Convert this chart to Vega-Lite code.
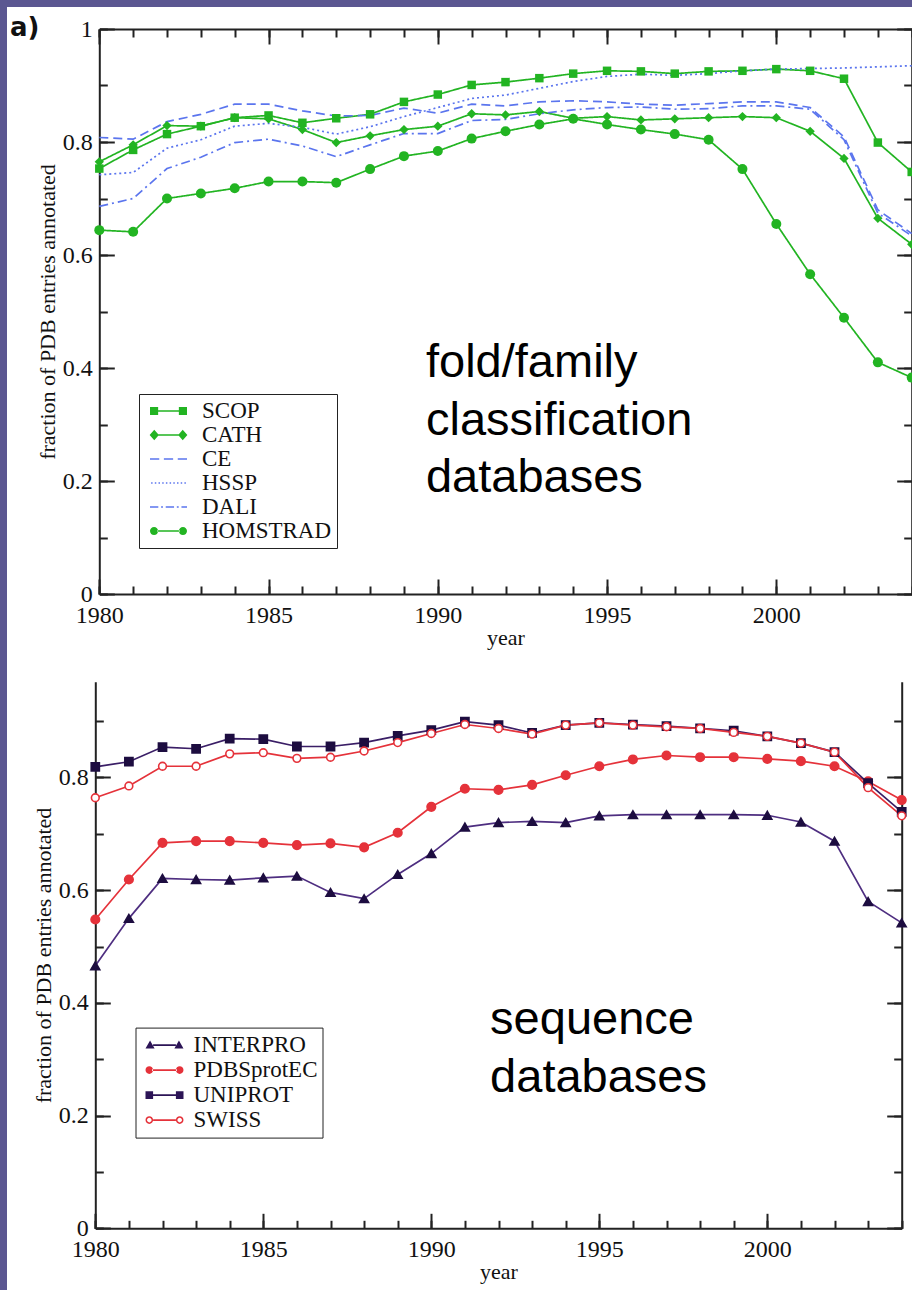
{
  "$schema": "https://vega.github.io/schema/vega-lite/v6.json",
  "background": "#5b5791",
  "padding": {"left": 7, "top": 7, "right": 0, "bottom": 0},
  "spacing": 0,
  "resolve": {"scale": {"color": "independent", "fill": "independent", "shape": "independent", "size": "independent", "strokeDash": "independent", "stroke": "independent"}},
  "config": {
    "view": {"stroke": null},
    "axis": {"domainColor": "#222", "domainWidth": 2, "tickColor": "#222", "tickWidth": 2, "labelFont": "Liberation Serif", "labelFontSize": 24, "labelColor": "#111", "titleFont": "Liberation Serif", "titleFontSize": 22, "titleFontWeight": "normal", "titleColor": "#111", "grid": false, "labelFlush": false, "labelOverlap": false},
    "legend": {"orient": "none", "title": null, "strokeColor": "#222", "fillColor": "white", "padding": 5, "labelFont": "Liberation Serif", "labelFontSize": 23, "labelColor": "#111", "rowPadding": 0, "symbolStrokeWidth": 0, "symbolOpacity": 1, "labelLimit": 300}
  },
  "datasets": {
    "top": [
      {"db":"SCOP","year":1980,"v":0.753},{"db":"SCOP","year":1981,"v":0.786},{"db":"SCOP","year":1982,"v":0.814},{"db":"SCOP","year":1983,"v":0.828},{"db":"SCOP","year":1984,"v":0.843},{"db":"SCOP","year":1985,"v":0.847},{"db":"SCOP","year":1986,"v":0.834},{"db":"SCOP","year":1987,"v":0.842},{"db":"SCOP","year":1988,"v":0.849},{"db":"SCOP","year":1989,"v":0.871},{"db":"SCOP","year":1990,"v":0.884},{"db":"SCOP","year":1991,"v":0.901},{"db":"SCOP","year":1992,"v":0.906},{"db":"SCOP","year":1993,"v":0.913},{"db":"SCOP","year":1994,"v":0.921},{"db":"SCOP","year":1995,"v":0.926},{"db":"SCOP","year":1996,"v":0.925},{"db":"SCOP","year":1997,"v":0.921},{"db":"SCOP","year":1998,"v":0.925},{"db":"SCOP","year":1999,"v":0.926},{"db":"SCOP","year":2000,"v":0.929},{"db":"SCOP","year":2001,"v":0.926},{"db":"SCOP","year":2002,"v":0.912},{"db":"SCOP","year":2003,"v":0.799},{"db":"SCOP","year":2004,"v":0.747},
      {"db":"CATH","year":1980,"v":0.765},{"db":"CATH","year":1981,"v":0.795},{"db":"CATH","year":1982,"v":0.829},{"db":"CATH","year":1983,"v":0.828},{"db":"CATH","year":1984,"v":0.843},{"db":"CATH","year":1985,"v":0.841},{"db":"CATH","year":1986,"v":0.822},{"db":"CATH","year":1987,"v":0.799},{"db":"CATH","year":1988,"v":0.811},{"db":"CATH","year":1989,"v":0.822},{"db":"CATH","year":1990,"v":0.828},{"db":"CATH","year":1991,"v":0.850},{"db":"CATH","year":1992,"v":0.848},{"db":"CATH","year":1993,"v":0.854},{"db":"CATH","year":1994,"v":0.842},{"db":"CATH","year":1995,"v":0.845},{"db":"CATH","year":1996,"v":0.839},{"db":"CATH","year":1997,"v":0.841},{"db":"CATH","year":1998,"v":0.843},{"db":"CATH","year":1999,"v":0.845},{"db":"CATH","year":2000,"v":0.843},{"db":"CATH","year":2001,"v":0.819},{"db":"CATH","year":2002,"v":0.771},{"db":"CATH","year":2003,"v":0.665},{"db":"CATH","year":2004,"v":0.619},
      {"db":"CE","year":1980,"v":0.808},{"db":"CE","year":1981,"v":0.805},{"db":"CE","year":1982,"v":0.836},{"db":"CE","year":1983,"v":0.849},{"db":"CE","year":1984,"v":0.867},{"db":"CE","year":1985,"v":0.867},{"db":"CE","year":1986,"v":0.855},{"db":"CE","year":1987,"v":0.846},{"db":"CE","year":1988,"v":0.847},{"db":"CE","year":1989,"v":0.860},{"db":"CE","year":1990,"v":0.851},{"db":"CE","year":1991,"v":0.867},{"db":"CE","year":1992,"v":0.864},{"db":"CE","year":1993,"v":0.871},{"db":"CE","year":1994,"v":0.873},{"db":"CE","year":1995,"v":0.871},{"db":"CE","year":1996,"v":0.867},{"db":"CE","year":1997,"v":0.865},{"db":"CE","year":1998,"v":0.868},{"db":"CE","year":1999,"v":0.871},{"db":"CE","year":2000,"v":0.871},{"db":"CE","year":2001,"v":0.861},{"db":"CE","year":2002,"v":0.809},{"db":"CE","year":2003,"v":0.680},{"db":"CE","year":2004,"v":0.638},
      {"db":"HSSP","year":1980,"v":0.742},{"db":"HSSP","year":1981,"v":0.746},{"db":"HSSP","year":1982,"v":0.789},{"db":"HSSP","year":1983,"v":0.804},{"db":"HSSP","year":1984,"v":0.828},{"db":"HSSP","year":1985,"v":0.833},{"db":"HSSP","year":1986,"v":0.826},{"db":"HSSP","year":1987,"v":0.814},{"db":"HSSP","year":1988,"v":0.827},{"db":"HSSP","year":1989,"v":0.845},{"db":"HSSP","year":1990,"v":0.861},{"db":"HSSP","year":1991,"v":0.877},{"db":"HSSP","year":1992,"v":0.883},{"db":"HSSP","year":1993,"v":0.895},{"db":"HSSP","year":1994,"v":0.907},{"db":"HSSP","year":1995,"v":0.916},{"db":"HSSP","year":1996,"v":0.920},{"db":"HSSP","year":1997,"v":0.918},{"db":"HSSP","year":1998,"v":0.921},{"db":"HSSP","year":1999,"v":0.926},{"db":"HSSP","year":2000,"v":0.929},{"db":"HSSP","year":2001,"v":0.930},{"db":"HSSP","year":2002,"v":0.931},{"db":"HSSP","year":2003,"v":0.933},{"db":"HSSP","year":2004,"v":0.935},
      {"db":"DALI","year":1980,"v":0.686},{"db":"DALI","year":1981,"v":0.700},{"db":"DALI","year":1982,"v":0.753},{"db":"DALI","year":1983,"v":0.773},{"db":"DALI","year":1984,"v":0.799},{"db":"DALI","year":1985,"v":0.805},{"db":"DALI","year":1986,"v":0.793},{"db":"DALI","year":1987,"v":0.774},{"db":"DALI","year":1988,"v":0.795},{"db":"DALI","year":1989,"v":0.815},{"db":"DALI","year":1990,"v":0.815},{"db":"DALI","year":1991,"v":0.838},{"db":"DALI","year":1992,"v":0.840},{"db":"DALI","year":1993,"v":0.850},{"db":"DALI","year":1994,"v":0.857},{"db":"DALI","year":1995,"v":0.861},{"db":"DALI","year":1996,"v":0.862},{"db":"DALI","year":1997,"v":0.858},{"db":"DALI","year":1998,"v":0.859},{"db":"DALI","year":1999,"v":0.864},{"db":"DALI","year":2000,"v":0.864},{"db":"DALI","year":2001,"v":0.858},{"db":"DALI","year":2002,"v":0.804},{"db":"DALI","year":2003,"v":0.674},{"db":"DALI","year":2004,"v":0.634},
      {"db":"HOMSTRAD","year":1980,"v":0.644},{"db":"HOMSTRAD","year":1981,"v":0.641},{"db":"HOMSTRAD","year":1982,"v":0.700},{"db":"HOMSTRAD","year":1983,"v":0.709},{"db":"HOMSTRAD","year":1984,"v":0.718},{"db":"HOMSTRAD","year":1985,"v":0.730},{"db":"HOMSTRAD","year":1986,"v":0.730},{"db":"HOMSTRAD","year":1987,"v":0.728},{"db":"HOMSTRAD","year":1988,"v":0.752},{"db":"HOMSTRAD","year":1989,"v":0.775},{"db":"HOMSTRAD","year":1990,"v":0.784},{"db":"HOMSTRAD","year":1991,"v":0.806},{"db":"HOMSTRAD","year":1992,"v":0.819},{"db":"HOMSTRAD","year":1993,"v":0.831},{"db":"HOMSTRAD","year":1994,"v":0.841},{"db":"HOMSTRAD","year":1995,"v":0.831},{"db":"HOMSTRAD","year":1996,"v":0.822},{"db":"HOMSTRAD","year":1997,"v":0.814},{"db":"HOMSTRAD","year":1998,"v":0.804},{"db":"HOMSTRAD","year":1999,"v":0.752},{"db":"HOMSTRAD","year":2000,"v":0.655},{"db":"HOMSTRAD","year":2001,"v":0.566},{"db":"HOMSTRAD","year":2002,"v":0.489},{"db":"HOMSTRAD","year":2003,"v":0.410},{"db":"HOMSTRAD","year":2004,"v":0.383}
    ],
    "bottom": [
      {"db":"INTERPRO","year":1980,"v":0.466},{"db":"INTERPRO","year":1981,"v":0.550},{"db":"INTERPRO","year":1982,"v":0.621},{"db":"INTERPRO","year":1983,"v":0.619},{"db":"INTERPRO","year":1984,"v":0.618},{"db":"INTERPRO","year":1985,"v":0.622},{"db":"INTERPRO","year":1986,"v":0.625},{"db":"INTERPRO","year":1987,"v":0.596},{"db":"INTERPRO","year":1988,"v":0.585},{"db":"INTERPRO","year":1989,"v":0.628},{"db":"INTERPRO","year":1990,"v":0.665},{"db":"INTERPRO","year":1991,"v":0.712},{"db":"INTERPRO","year":1992,"v":0.720},{"db":"INTERPRO","year":1993,"v":0.722},{"db":"INTERPRO","year":1994,"v":0.720},{"db":"INTERPRO","year":1995,"v":0.732},{"db":"INTERPRO","year":1996,"v":0.734},{"db":"INTERPRO","year":1997,"v":0.734},{"db":"INTERPRO","year":1998,"v":0.734},{"db":"INTERPRO","year":1999,"v":0.734},{"db":"INTERPRO","year":2000,"v":0.733},{"db":"INTERPRO","year":2001,"v":0.721},{"db":"INTERPRO","year":2002,"v":0.687},{"db":"INTERPRO","year":2003,"v":0.580},{"db":"INTERPRO","year":2004,"v":0.542},
      {"db":"PDBSprotEC","year":1980,"v":0.548},{"db":"PDBSprotEC","year":1981,"v":0.619},{"db":"PDBSprotEC","year":1982,"v":0.684},{"db":"PDBSprotEC","year":1983,"v":0.687},{"db":"PDBSprotEC","year":1984,"v":0.687},{"db":"PDBSprotEC","year":1985,"v":0.684},{"db":"PDBSprotEC","year":1986,"v":0.680},{"db":"PDBSprotEC","year":1987,"v":0.683},{"db":"PDBSprotEC","year":1988,"v":0.676},{"db":"PDBSprotEC","year":1989,"v":0.702},{"db":"PDBSprotEC","year":1990,"v":0.748},{"db":"PDBSprotEC","year":1991,"v":0.780},{"db":"PDBSprotEC","year":1992,"v":0.778},{"db":"PDBSprotEC","year":1993,"v":0.787},{"db":"PDBSprotEC","year":1994,"v":0.804},{"db":"PDBSprotEC","year":1995,"v":0.820},{"db":"PDBSprotEC","year":1996,"v":0.832},{"db":"PDBSprotEC","year":1997,"v":0.839},{"db":"PDBSprotEC","year":1998,"v":0.836},{"db":"PDBSprotEC","year":1999,"v":0.836},{"db":"PDBSprotEC","year":2000,"v":0.833},{"db":"PDBSprotEC","year":2001,"v":0.829},{"db":"PDBSprotEC","year":2002,"v":0.820},{"db":"PDBSprotEC","year":2003,"v":0.793},{"db":"PDBSprotEC","year":2004,"v":0.760},
      {"db":"UNIPROT","year":1980,"v":0.819},{"db":"UNIPROT","year":1981,"v":0.828},{"db":"UNIPROT","year":1982,"v":0.854},{"db":"UNIPROT","year":1983,"v":0.851},{"db":"UNIPROT","year":1984,"v":0.869},{"db":"UNIPROT","year":1985,"v":0.868},{"db":"UNIPROT","year":1986,"v":0.855},{"db":"UNIPROT","year":1987,"v":0.855},{"db":"UNIPROT","year":1988,"v":0.862},{"db":"UNIPROT","year":1989,"v":0.874},{"db":"UNIPROT","year":1990,"v":0.884},{"db":"UNIPROT","year":1991,"v":0.899},{"db":"UNIPROT","year":1992,"v":0.893},{"db":"UNIPROT","year":1993,"v":0.879},{"db":"UNIPROT","year":1994,"v":0.893},{"db":"UNIPROT","year":1995,"v":0.897},{"db":"UNIPROT","year":1996,"v":0.894},{"db":"UNIPROT","year":1997,"v":0.891},{"db":"UNIPROT","year":1998,"v":0.887},{"db":"UNIPROT","year":1999,"v":0.883},{"db":"UNIPROT","year":2000,"v":0.873},{"db":"UNIPROT","year":2001,"v":0.861},{"db":"UNIPROT","year":2002,"v":0.845},{"db":"UNIPROT","year":2003,"v":0.790},{"db":"UNIPROT","year":2004,"v":0.739},
      {"db":"SWISS","year":1980,"v":0.764},{"db":"SWISS","year":1981,"v":0.785},{"db":"SWISS","year":1982,"v":0.820},{"db":"SWISS","year":1983,"v":0.820},{"db":"SWISS","year":1984,"v":0.842},{"db":"SWISS","year":1985,"v":0.844},{"db":"SWISS","year":1986,"v":0.834},{"db":"SWISS","year":1987,"v":0.836},{"db":"SWISS","year":1988,"v":0.847},{"db":"SWISS","year":1989,"v":0.862},{"db":"SWISS","year":1990,"v":0.878},{"db":"SWISS","year":1991,"v":0.894},{"db":"SWISS","year":1992,"v":0.887},{"db":"SWISS","year":1993,"v":0.877},{"db":"SWISS","year":1994,"v":0.893},{"db":"SWISS","year":1995,"v":0.897},{"db":"SWISS","year":1996,"v":0.893},{"db":"SWISS","year":1997,"v":0.890},{"db":"SWISS","year":1998,"v":0.887},{"db":"SWISS","year":1999,"v":0.880},{"db":"SWISS","year":2000,"v":0.873},{"db":"SWISS","year":2001,"v":0.861},{"db":"SWISS","year":2002,"v":0.845},{"db":"SWISS","year":2003,"v":0.782},{"db":"SWISS","year":2004,"v":0.732}
    ]
  },
  "vconcat": [
    {
      "width": 905,
      "height": 650,
      "view": {"fill": "white", "stroke": null},
      "data": {"name": "top"},
      "resolve": {"scale": {"shape": "independent", "fill": "independent"}, "axis": {"x": "independent", "y": "independent"}},
      "layer": [
        {
          "mark": {"type": "line", "strokeWidth": 1.7},
          "encoding": {
            "x": {"field": "year", "type": "quantitative", "scale": {"domain": [1980, 2004], "range": [92.3, 904.7], "nice": false, "zero": false},
                  "axis": {"orient": "bottom", "offset": -63, "values": [1980, 1985, 1990, 1995, 2000], "format": "d", "tickSize": -15, "labelPadding": 24, "title": "year", "titlePadding": 0}},
            "y": {"field": "v", "type": "quantitative", "scale": {"domain": [0, 1], "range": [587, 22], "nice": false, "zero": false},
                  "axis": {"orient": "left", "offset": -92.3, "values": [0, 0.2, 0.4, 0.6, 0.8, 1], "format": "~g", "tickSize": -15, "labelPadding": 22, "title": "fraction of PDB entries annotated", "titlePadding": 3}},
            "color": {"field": "db", "type": "nominal", "scale": {"domain": ["SCOP", "CATH", "CE", "HSSP", "DALI", "HOMSTRAD"], "range": ["#22b422", "#22b422", "#5b75ee", "#5b75ee", "#5b75ee", "#22b422"]}, "legend": null},
            "strokeDash": {"field": "db", "type": "nominal", "scale": {"domain": ["SCOP", "CATH", "CE", "HSSP", "DALI", "HOMSTRAD"], "range": [[1, 0], [1, 0], [9, 5], [2, 3], [9, 4, 2, 4], [1, 0]]}, "legend": null}
          }
        },
        {
          "transform": [{"filter": {"field": "db", "oneOf": ["SCOP", "CATH", "HOMSTRAD"]}}],
          "mark": {"type": "point", "filled": true, "opacity": 1},
          "encoding": {
            "x": {"field": "year", "type": "quantitative", "scale": {"domain": [1980, 2004], "range": [92.3, 904.7], "nice": false, "zero": false},
                  "axis": {"orient": "bottom", "offset": -63, "values": [1980,1981,1982,1983,1984,1985,1986,1987,1988,1989,1990,1991,1992,1993,1994,1995,1996,1997,1998,1999,2000,2001,2002,2003,2004], "tickSize": -8, "labels": false, "domain": false, "title": null}},
            "y": {"field": "v", "type": "quantitative", "scale": {"domain": [0, 1], "range": [587, 22], "nice": false, "zero": false},
                  "axis": {"orient": "left", "offset": -92.3, "values": [0, 0.1, 0.2, 0.3, 0.4, 0.5, 0.6, 0.7, 0.8, 0.9, 1], "tickSize": -8, "labels": false, "domain": false, "title": null}},
            "color": {"field": "db", "type": "nominal", "legend": null},
            "shape": {"field": "db", "type": "nominal", "scale": {"domain": ["SCOP", "CATH", "HOMSTRAD"], "range": ["square", "diamond", "circle"]}, "legend": null},
            "size": {"field": "db", "type": "nominal", "scale": {"domain": ["SCOP", "CATH", "HOMSTRAD"], "range": [72, 100, 75]}, "legend": null}
          }
        },
        {
          "transform": [{"filter": "false"}],
          "mark": {"type": "point", "filled": true, "strokeWidth": 0},
          "encoding": {
            "x": {"field": "year", "type": "quantitative", "scale": {"domain": [1980, 2004], "range": [92.3, 904.7], "nice": false, "zero": false},
                  "axis": {"orient": "top", "offset": -22, "values": [1980, 1985, 1990, 1995, 2000], "tickSize": -15, "labels": false, "title": null}},
            "y": {"field": "v", "type": "quantitative", "scale": {"domain": [0, 1], "range": [587, 22], "nice": false, "zero": false},
                  "axis": {"orient": "right", "offset": -0.3, "values": [0, 0.2, 0.4, 0.6, 0.8, 1], "tickSize": -15, "labels": false, "title": null}},
            "shape": {"field": "db", "type": "nominal",
                      "scale": {"domain": ["SCOP", "CATH", "CE", "HSSP", "DALI", "HOMSTRAD"],
                                "range": [
                                  "M-1,-0.22H-0.56V0.22H-1Z M0.56,-0.22H1V0.22H0.56Z M-0.6,-0.045H0.6V0.045H-0.6Z",
                                  "M-0.77,-0.28L-0.52,0L-0.77,0.28L-1.02,0Z M0.77,-0.28L1.02,0L0.77,0.28L0.52,0Z M-0.6,-0.045H0.6V0.045H-0.6Z",
                                  "M-1,-0.045H-0.5V0.045H-1Z M-0.25,-0.045H0.25V0.045H-0.25Z M0.5,-0.045H1V0.045H0.5Z",
                                  "M-0.94,-0.045H-0.86V0.045H-0.94Z M-0.74,-0.045H-0.66V0.045H-0.74Z M-0.54,-0.045H-0.46V0.045H-0.54Z M-0.34,-0.045H-0.26V0.045H-0.34Z M-0.14,-0.045H-0.06V0.045H-0.14Z M0.06,-0.045H0.14V0.045H0.06Z M0.26,-0.045H0.34V0.045H0.26Z M0.46,-0.045H0.54V0.045H0.46Z M0.66,-0.045H0.74V0.045H0.66Z M0.86,-0.045H0.94V0.045H0.86Z",
                                  "M-1,-0.045H-0.55V0.045H-1Z M-0.4,-0.045H-0.3V0.045H-0.4Z M-0.15,-0.045H0.3V0.045H-0.15Z M0.45,-0.045H0.55V0.045H0.45Z M0.7,-0.045H1V0.045H0.7Z",
                                  "M-1,0A0.22,0.22 0 1,0 -0.56,0A0.22,0.22 0 1,0 -1,0Z M0.56,0A0.22,0.22 0 1,0 1,0A0.22,0.22 0 1,0 0.56,0Z M-0.6,-0.045H0.6V0.045H-0.6Z"
                                ]},
                      "legend": {"legendX": 132, "legendY": 387, "symbolSize": 1369, "clipHeight": 24, "symbolOffset": 6, "labelOffset": 15}},
            "fill": {"field": "db", "type": "nominal",
                     "scale": {"domain": ["SCOP", "CATH", "CE", "HSSP", "DALI", "HOMSTRAD"], "range": ["#22b422", "#22b422", "#5b75ee", "#5b75ee", "#5b75ee", "#22b422"]},
                     "legend": {"legendX": 132, "legendY": 387, "symbolSize": 1369, "clipHeight": 24, "symbolOffset": 6, "labelOffset": 15}}
          }
        },
        {
          "transform": [{"filter": "false"}],
          "mark": {"type": "point"},
          "encoding": {
            "x": {"field": "year", "type": "quantitative", "scale": {"domain": [1980, 2004], "range": [92.3, 904.7], "nice": false, "zero": false},
                  "axis": {"orient": "top", "offset": -22, "values": [1980,1981,1982,1983,1984,1985,1986,1987,1988,1989,1990,1991,1992,1993,1994,1995,1996,1997,1998,1999,2000,2001,2002,2003,2004], "tickSize": -8, "labels": false, "domain": false, "title": null}},
            "y": {"field": "v", "type": "quantitative", "scale": {"domain": [0, 1], "range": [587, 22], "nice": false, "zero": false},
                  "axis": {"orient": "right", "offset": -0.3, "values": [0, 0.1, 0.2, 0.3, 0.4, 0.5, 0.6, 0.7, 0.8, 0.9, 1], "tickSize": -8, "labels": false, "domain": false, "title": null}}
          }
        },
        {
          "data": {"values": [{}]},
          "mark": {"type": "text", "text": ["fold/family", "classification", "databases"], "font": "Liberation Sans", "fontSize": 47, "lineHeight": 57.5, "align": "left", "baseline": "alphabetic", "color": "#000"},
          "encoding": {
            "x": {"datum": 1989.65, "type": "quantitative", "axis": null},
            "y": {"datum": 0.384, "type": "quantitative", "axis": null}
          }
        },
        {
          "data": {"values": [{}]},
          "mark": {"type": "text", "text": "a)", "font": "DejaVu Sans", "fontSize": 26, "fontWeight": "bold", "align": "left", "baseline": "alphabetic", "color": "#111"},
          "encoding": {
            "x": {"datum": 1977.36, "type": "quantitative", "axis": null},
            "y": {"datum": 0.987, "type": "quantitative", "axis": null}
          }
        }
      ]
    },
    {
      "width": 905,
      "height": 633,
      "view": {"fill": "white", "stroke": null},
      "data": {"name": "bottom"},
      "resolve": {"scale": {"shape": "independent", "fill": "independent"}, "axis": {"x": "independent", "y": "independent"}},
      "layer": [
        {
          "mark": {"type": "line", "strokeWidth": 1.7},
          "encoding": {
            "x": {"field": "year", "type": "quantitative", "scale": {"domain": [1980, 2004], "range": [88.3, 894.7], "nice": false, "zero": false},
                  "axis": {"orient": "bottom", "offset": -61.7, "values": [1980, 1985, 1990, 1995, 2000], "format": "d", "tickSize": -15, "labelPadding": 24, "title": "year", "titlePadding": 0}},
            "y": {"field": "v", "type": "quantitative", "scale": {"domain": [0, 0.97], "range": [571.3, 24.7], "nice": false, "zero": false},
                  "axis": {"orient": "left", "offset": -88.3, "values": [0, 0.2, 0.4, 0.6, 0.8], "format": "~g", "tickSize": -15, "labelPadding": 22, "title": "fraction of PDB entries annotated", "titlePadding": 3}},
            "color": {"field": "db", "type": "nominal", "scale": {"domain": ["INTERPRO", "PDBSprotEC", "UNIPROT", "SWISS"], "range": ["#4e2e80", "#e5323a", "#3a1e66", "#e5323a"]}, "legend": null}
          }
        },
        {
          "mark": {"type": "point", "filled": true, "opacity": 1, "strokeWidth": 1.6},
          "encoding": {
            "x": {"field": "year", "type": "quantitative", "scale": {"domain": [1980, 2004], "range": [88.3, 894.7], "nice": false, "zero": false},
                  "axis": {"orient": "bottom", "offset": -61.7, "values": [1980,1981,1982,1983,1984,1985,1986,1987,1988,1989,1990,1991,1992,1993,1994,1995,1996,1997,1998,1999,2000,2001,2002,2003,2004], "tickSize": -8, "labels": false, "domain": false, "title": null}},
            "y": {"field": "v", "type": "quantitative", "scale": {"domain": [0, 0.97], "range": [571.3, 24.7], "nice": false, "zero": false},
                  "axis": {"orient": "left", "offset": -88.3, "values": [0, 0.1, 0.2, 0.3, 0.4, 0.5, 0.6, 0.7, 0.8, 0.9], "tickSize": -8, "labels": false, "domain": false, "title": null}},
            "shape": {"field": "db", "type": "nominal", "scale": {"domain": ["INTERPRO", "PDBSprotEC", "UNIPROT", "SWISS"], "range": ["triangle-up", "circle", "square", "circle"]}, "legend": null},
            "fill": {"field": "db", "type": "nominal", "scale": {"domain": ["INTERPRO", "PDBSprotEC", "UNIPROT", "SWISS"], "range": ["#1d0d40", "#e5323a", "#1d0d40", "#ffffff"]}, "legend": null},
            "stroke": {"field": "db", "type": "nominal", "scale": {"domain": ["INTERPRO", "PDBSprotEC", "UNIPROT", "SWISS"], "range": ["#1d0d40", "#e5323a", "#1d0d40", "#e5323a"]}, "legend": null},
            "size": {"field": "db", "type": "nominal", "scale": {"domain": ["INTERPRO", "PDBSprotEC", "UNIPROT", "SWISS"], "range": [80, 60, 60, 50]}, "legend": null}
          }
        },
        {
          "transform": [{"filter": "false"}],
          "mark": {"type": "point", "filled": true, "strokeWidth": 0},
          "encoding": {
            "x": {"field": "year", "type": "quantitative", "scale": {"domain": [1980, 2004], "range": [88.3, 894.7], "nice": false, "zero": false}, "axis": null},
            "y": {"field": "v", "type": "quantitative", "scale": {"domain": [0, 0.97], "range": [571.3, 24.7], "nice": false, "zero": false},
                  "axis": {"orient": "right", "offset": -10.3, "values": [0, 0.2, 0.4, 0.6, 0.8], "tickSize": -15, "labels": false, "title": null}},
            "shape": {"field": "db", "type": "nominal",
                      "scale": {"domain": ["INTERPRO", "PDBSprotEC", "UNIPROT", "SWISS"],
                                "range": [
                                  "M-1,0.18L-0.76,-0.24L-0.52,0.18Z M0.52,0.18L0.76,-0.24L1,0.18Z M-0.6,-0.045H0.6V0.045H-0.6Z",
                                  "M-1,0A0.2,0.2 0 1,0 -0.6,0A0.2,0.2 0 1,0 -1,0Z M0.6,0A0.2,0.2 0 1,0 1,0A0.2,0.2 0 1,0 0.6,0Z M-0.65,-0.045H0.65V0.045H-0.65Z",
                                  "M-1,-0.2H-0.6V0.2H-1Z M0.6,-0.2H1V0.2H0.6Z M-0.65,-0.045H0.65V0.045H-0.65Z",
                                  "M-1,0A0.2,0.2 0 1,0 -0.6,0A0.2,0.2 0 1,0 -1,0Z M-0.92,0A0.12,0.12 0 1,1 -0.68,0A0.12,0.12 0 1,1 -0.92,0Z M0.6,0A0.2,0.2 0 1,0 1,0A0.2,0.2 0 1,0 0.6,0Z M0.68,0A0.12,0.12 0 1,1 0.92,0A0.12,0.12 0 1,1 0.68,0Z M-0.6,-0.045H0.6V0.045H-0.6Z"
                                ]},
                      "legend": {"legendX": 128.5, "legendY": 370.6, "symbolSize": 1444, "clipHeight": 25, "symbolOffset": 5, "labelOffset": 10}},
            "fill": {"field": "db", "type": "nominal",
                     "scale": {"domain": ["INTERPRO", "PDBSprotEC", "UNIPROT", "SWISS"], "range": ["#2c1456", "#e5323a", "#2c1456", "#e5323a"]},
                     "legend": {"legendX": 128.5, "legendY": 370.6, "symbolSize": 1444, "clipHeight": 25, "symbolOffset": 5, "labelOffset": 10}}
          }
        },
        {
          "transform": [{"filter": "false"}],
          "mark": {"type": "point"},
          "encoding": {
            "x": {"field": "year", "type": "quantitative", "scale": {"domain": [1980, 2004], "range": [88.3, 894.7], "nice": false, "zero": false}, "axis": null},
            "y": {"field": "v", "type": "quantitative", "scale": {"domain": [0, 0.97], "range": [571.3, 24.7], "nice": false, "zero": false},
                  "axis": {"orient": "right", "offset": -10.3, "values": [0, 0.1, 0.2, 0.3, 0.4, 0.5, 0.6, 0.7, 0.8, 0.9], "tickSize": -8, "labels": false, "domain": false, "title": null}}
          }
        },
        {
          "data": {"values": [{}]},
          "mark": {"type": "text", "text": ["sequence", "databases"], "font": "Liberation Sans", "fontSize": 47, "lineHeight": 58, "align": "left", "baseline": "alphabetic", "color": "#000"},
          "encoding": {
            "x": {"datum": 1991.75, "type": "quantitative", "axis": null},
            "y": {"datum": 0.345, "type": "quantitative", "axis": null}
          }
        }
      ]
    }
  ]
}
